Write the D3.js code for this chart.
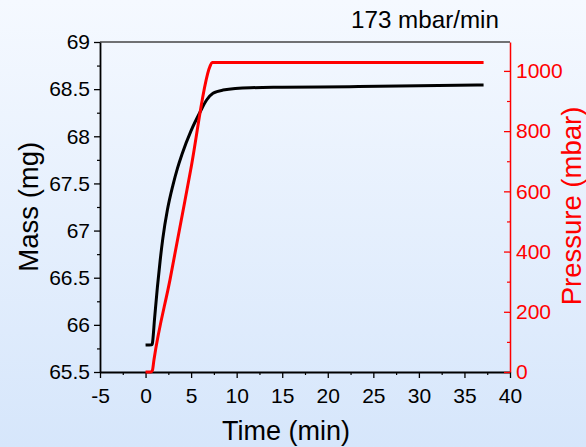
<!DOCTYPE html>
<html><head><meta charset="utf-8">
<script src="https://cdn.jsdelivr.net/npm/d3@7"></script>
<style>html,body{margin:0;padding:0;overflow:hidden;background:#e8f1fd}svg{display:block}text{font-family:"Liberation Sans",Arial,sans-serif}</style>
</head><body><svg id="c" width="586" height="447"></svg>
<script>
// ---- data ----
const massTime = [0, 0.68, 0.74, 1.0, 1.3, 1.6, 1.9, 2.4, 3.0, 3.5, 4.0, 5.0, 6.0, 6.7, 7.4, 8.5, 11.5, 15, 22.4, 30, 37.1];
const massValues = [65.786, 65.79, 65.80, 66.08, 66.40, 66.68, 66.92, 67.22, 67.48, 67.66, 67.81, 68.06, 68.26, 68.385, 68.456, 68.49, 68.515, 68.52, 68.526, 68.535, 68.544];
const pressureTime = [0, 0.6, 0.75, 0.92, 2.68, 4.95, 7.07, 7.3, 37.1];
const pressureValues = [0, 0, 5, 40, 306, 671, 1015, 1028, 1028];
const xTicks = [-5, 0, 5, 10, 15, 20, 25, 30, 35, 40];
const xMinorTicks = [-2.5, 2.5, 7.5, 12.5, 17.5, 22.5, 27.5, 32.5, 37.5];
const massTicks = [65.5, 66, 66.5, 67, 67.5, 68, 68.5, 69];
const massMinorTicks = [65.75, 66.25, 66.75, 67.25, 67.75, 68.25, 68.75];
const pressureTicks = [0, 200, 400, 600, 800, 1000];
const pressureMinorTicks = [100, 300, 500, 700, 900];
const rateLabel = "173 mbar/min";

// ---- layout ----
const W = 586, H = 447;
const L = 100, R = 510, T = 42, B = 372;
const svg = d3.select("#c");
const defs = svg.append("defs");
const grad = defs.append("linearGradient").attr("id","bg").attr("x1",0).attr("y1",0).attr("x2",0).attr("y2",1);
grad.append("stop").attr("offset","0%").attr("stop-color","#f5f9ff");
grad.append("stop").attr("offset","100%").attr("stop-color","#d6e6fb");
svg.append("rect").attr("width",W).attr("height",H).attr("fill","url(#bg)");

const x = d3.scaleLinear().domain([-5, 40]).range([L, R]);
const yM = d3.scaleLinear().domain([65.5, 69]).range([B, T]);
const yP = d3.scaleLinear().domain([0, 1096]).range([B, T]);

// top frame line
svg.append("line").attr("x1",L).attr("x2",R).attr("y1",T).attr("y2",T)
  .attr("stroke","#444").attr("stroke-width",1.5);

function styleAxis(g, color, fs, width){
  g.attr("color", color).attr("font-size", fs).attr("font-family", '"Liberation Sans",Arial,sans-serif');
  g.selectAll(".domain").attr("stroke-width", width);
  g.selectAll(".tick line").attr("stroke-width", 1.3);
}
// minor ticks
svg.append("g").attr("transform",`translate(${L},0)`)
  .call(d3.axisLeft(yM).tickValues(massMinorTicks).tickFormat("").tickSize(3).tickSizeOuter(0))
  .call(g=>{g.select(".domain").remove(); g.attr("color","#000"); g.selectAll(".tick line").attr("stroke-width",1.2);});
svg.append("g").attr("transform",`translate(0,${B})`)
  .call(d3.axisBottom(x).tickValues(xMinorTicks).tickFormat("").tickSize(3).tickSizeOuter(0))
  .call(g=>{g.select(".domain").remove(); g.attr("color","#000"); g.selectAll(".tick line").attr("stroke-width",1.2);});
svg.append("g").attr("transform",`translate(${R},0)`)
  .call(d3.axisRight(yP).tickValues(pressureMinorTicks).tickFormat("").tickSize(-3).tickSizeOuter(0))
  .call(g=>{g.select(".domain").remove(); g.attr("color","#ff0000"); g.selectAll(".tick line").attr("stroke-width",1.2);});

// major axes
svg.append("g").attr("transform",`translate(${L},0)`)
  .call(d3.axisLeft(yM).tickValues(massTicks).tickFormat(d=>String(d)).tickSize(6).tickPadding(4).tickSizeOuter(0))
  .call(g=>styleAxis(g,"#000",21,1.8));
svg.append("g").attr("transform",`translate(0,${B})`)
  .call(d3.axisBottom(x).tickValues(xTicks).tickFormat(d=>String(d)).tickSize(6).tickPadding(10).tickSizeOuter(0))
  .call(g=>styleAxis(g,"#000",21,1.8));
svg.append("g").attr("transform",`translate(${R},0)`)
  .call(d3.axisRight(yP).tickValues(pressureTicks).tickFormat(d=>String(d)).tickSize(-6).tickPadding(6).tickSizeOuter(0))
  .call(g=>styleAxis(g,"#ff0000",21,1.5));

// data lines
const massData = massTime.map((t,i)=>[t, massValues[i]]);
const presData = pressureTime.map((t,i)=>[t, pressureValues[i]]);
svg.append("path").datum(massData)
  .attr("d", d3.line().x(d=>x(d[0])).y(d=>yM(d[1])).curve(d3.curveMonotoneX))
  .attr("fill","none").attr("stroke","#000").attr("stroke-width",3).attr("stroke-linejoin","round");
svg.append("path").datum(presData)
  .attr("d", d3.line().x(d=>x(d[0])).y(d=>yP(d[1])).curve(d3.curveMonotoneX))
  .attr("fill","none").attr("stroke","#ff0000").attr("stroke-width",3).attr("stroke-linejoin","round");

// titles
svg.append("text").attr("transform","translate(37.5,206.7) rotate(-90)")
  .attr("text-anchor","middle").attr("font-size",27.5).attr("fill","#000").text("Mass (mg)");
svg.append("text").attr("transform","translate(581,206) rotate(-90)")
  .attr("text-anchor","middle").attr("font-size",27.5).attr("fill","#ff0000").text("Pressure (mbar)");
svg.append("text").attr("x",286).attr("y",439.5)
  .attr("text-anchor","middle").attr("font-size",27).attr("fill","#000").text("Time (min)");
svg.append("text").attr("x",351).attr("y",28.3)
  .attr("text-anchor","start").attr("font-size",24.2).attr("fill","#000").text(rateLabel);
</script></body></html>
